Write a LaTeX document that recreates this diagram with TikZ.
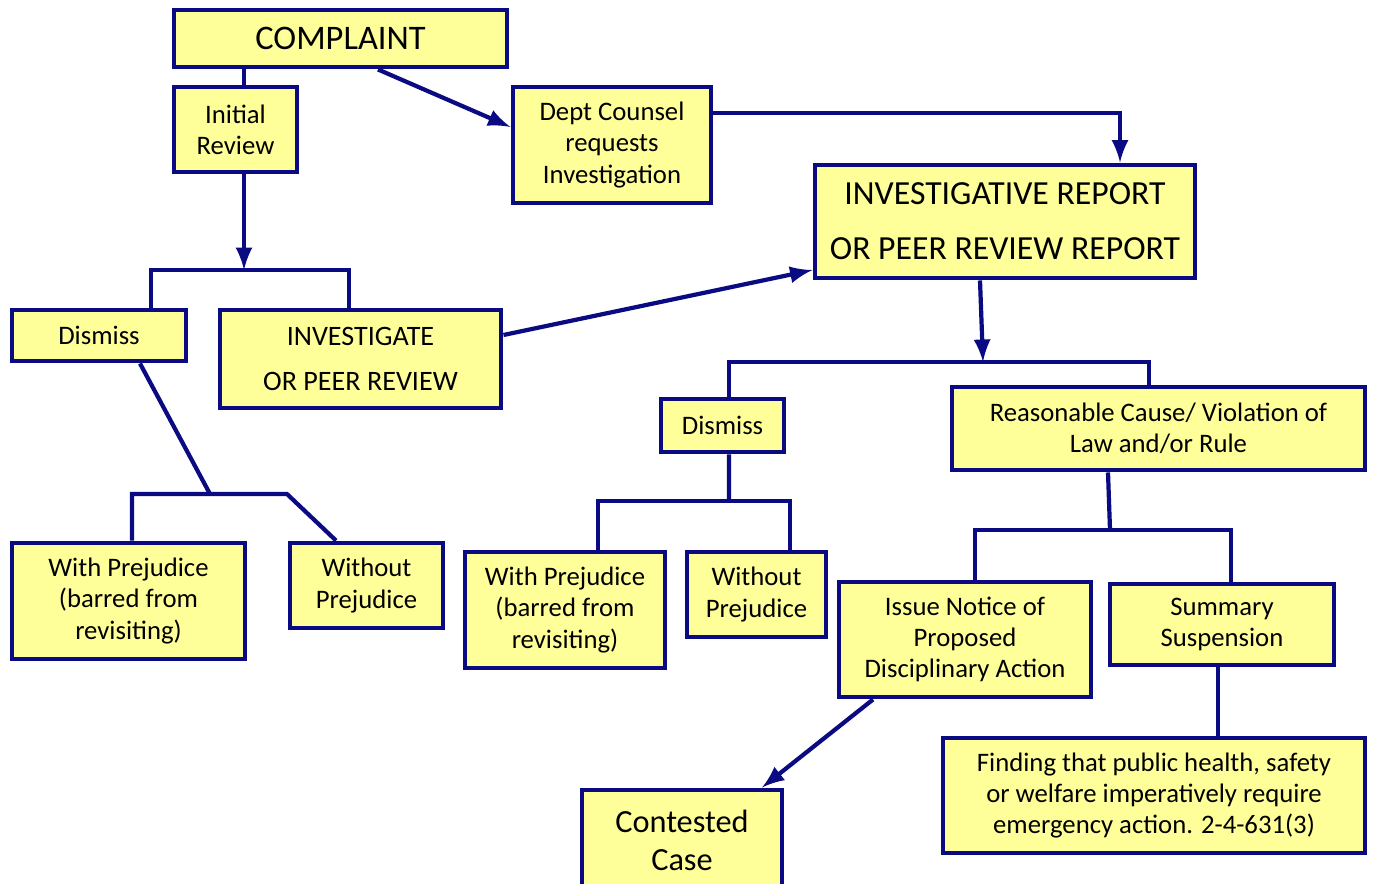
\documentclass[tikz,border=0pt]{standalone}
\usepackage{fontspec}
\setmainfont{Carlito}
\usepackage{tikz}
\usetikzlibrary{arrows}
\definecolor{navy}{RGB}{10,10,130}
\definecolor{paleyellow}{RGB}{255,255,153}

\begin{document}
\begin{tikzpicture}[
    box/.style={draw=navy, fill=paleyellow, line width=1.4pt, inner sep=0pt,
      align=center, font=\fontsize{7.6}{8.9}\selectfont},
    link/.style={draw=navy, line width=1.2pt},
    >=latex]
  \useasboundingbox (0,0) rectangle (13.74,-8.83);
  \clip (0,0) rectangle (13.74,-8.83);
  \fill[white] (0,0) rectangle (13.74,-8.83);
  % boxes
  \node[box, minimum width=3.33cm, minimum height=0.57cm, font=\fontsize{9.8}{12}\selectfont] (complaint) at (3.405,-0.385) {COMPLAINT};
  \node[box, minimum width=1.23cm, minimum height=0.85cm] (initial) at (2.355,-1.295) {Initial\\Review};
  \node[box, minimum width=1.98cm, minimum height=1.16cm] (dept) at (6.12,-1.45) {Dept Counsel\\requests\\Investigation};
  \node[box, minimum width=3.80cm, minimum height=1.13cm, font=\fontsize{9.6}{15.6}\selectfont] (invrep) at (10.05,-2.215) {INVESTIGATIVE REPORT\\OR PEER REVIEW REPORT};
  \node[box, minimum width=1.74cm, minimum height=0.51cm] (dismissL) at (0.99,-3.355) {Dismiss};
  \node[box, minimum width=2.81cm, minimum height=0.98cm, font=\fontsize{8}{12.8}\selectfont] (investigate) at (3.605,-3.59) {INVESTIGATE\\OR PEER REVIEW};
  \node[box, minimum width=2.33cm, minimum height=1.16cm] (withPL) at (1.285,-6.01) {With Prejudice\\(barred from\\revisiting)};
  \node[box, minimum width=1.53cm, minimum height=0.85cm] (withoutPL) at (3.665,-5.855) {Without\\Prejudice};
  \node[box, minimum width=1.23cm, minimum height=0.53cm] (dismissM) at (7.225,-4.255) {Dismiss};
  \node[box, minimum width=4.13cm, minimum height=0.83cm] (reason) at (11.585,-4.285) {Reasonable Cause/ Violation of\\Law and/or Rule};
  \node[box, minimum width=2.00cm, minimum height=1.16cm] (withPM) at (5.65,-6.10) {With Prejudice\\(barred from\\revisiting)};
  \node[box, minimum width=1.39cm, minimum height=0.85cm] (withoutPM) at (7.565,-5.945) {Without\\Prejudice};
  \node[box, minimum width=2.52cm, minimum height=1.15cm] (issue) at (9.65,-6.395) {Issue Notice of\\Proposed\\Disciplinary Action};
  \node[box, minimum width=2.24cm, minimum height=0.81cm] (summary) at (12.22,-6.245) {Summary\\Suspension};
  \node[box, minimum width=2.00cm, minimum height=1.00cm, font=\fontsize{9.2}{10.8}\selectfont] (contested) at (6.82,-8.40) {Contested\\Case};
  \node[box, minimum width=4.22cm, minimum height=1.15cm] (finding) at (11.54,-7.955) {Finding that public health, safety\\or welfare imperatively require\\emergency action. 2-4-631(3)};
  % junctions
  \coordinate (j1) at (2.44,-2.70);
  \coordinate (j2) at (9.83,-3.62);
  \coordinate (j3) at (2.10,-4.94);
  \coordinate (k3) at (2.87,-4.94);
  \coordinate (j4) at (7.29,-5.01);
  \coordinate (j5) at (11.10,-5.30);
  % connectors
  \draw[link] ([xshift=0.085cm]initial.north) -- ([xshift=0.085cm]initial.north |- complaint.south);
  \draw[link,->] ([xshift=0.375cm]complaint.south) -- ([yshift=0.18cm]dept.west);
  \draw[link,->] ([yshift=0.32cm]dept.east) -| ([xshift=1.15cm]invrep.north);
  \draw[link,->] ([xshift=0.085cm]initial.south) -- (j1);
  \draw[link] ([xshift=0.52cm]dismissL.north) |- (j1) -| ([xshift=-0.115cm]investigate.north);
  \draw[link,->] ([yshift=0.24cm]investigate.east) -- ([yshift=-0.485cm]invrep.west);
  \draw[link,->] ([xshift=-0.25cm]invrep.south) -- (j2);
  \draw[link] ([xshift=0.065cm]dismissM.north) |- (j2) -| ([xshift=-0.095cm]reason.north);
  \draw[link] ([xshift=0.41cm]dismissL.south) -- (j3);
  \draw[link] ([xshift=0.035cm]withPL.north) |- (j3) -- (k3) -- ([xshift=-0.305cm]withoutPL.north);
  \draw[link] ([xshift=0.065cm]dismissM.south) -- (j4);
  \draw[link] ([xshift=0.33cm]withPM.north) |- (j4) -| ([xshift=0.335cm]withoutPM.north);
  \draw[link] ([xshift=-0.505cm]reason.south) -- (j5);
  \draw[link] ([xshift=0.10cm]issue.north) |- (j5) -| ([xshift=0.09cm]summary.north);
  \draw[link,->] ([xshift=-0.92cm]issue.south) -- ([xshift=0.80cm]contested.north);
  \draw[link] ([xshift=-0.04cm]summary.south) -- ([xshift=-0.04cm]summary.south |- finding.north);
\end{tikzpicture}
\end{document}
